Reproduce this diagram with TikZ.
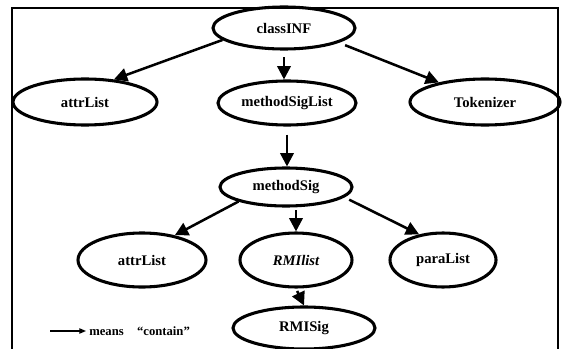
\documentclass[tikz,border=0pt]{standalone}
\usepackage{fontspec}
\setmainfont{Liberation Serif}
\usetikzlibrary{shapes.geometric,arrows.meta}
\begin{document}
\begin{tikzpicture}[x=0.75pt,y=-0.75pt,
  ell/.style={ellipse,draw,line width=2.3pt,inner sep=0pt,font=\fontsize{11}{13}\selectfont\bfseries},
  arr/.style={line width=1.9pt,-{Triangle[length=10pt,width=10pt]}},
  legarr/.style={line width=0.9pt,-{Triangle[length=5pt,width=4pt]}},
  frame/.style={line width=1pt}
]
\useasboundingbox (0,0) rectangle (563,349);
\draw[frame] (12,349) -- (12,8) -- (558,8) -- (558,349);

\node[ell,minimum width=106.5pt,minimum height=31.5pt] (classINF) at (284,28) {classINF};
\node[ell,minimum width=108pt,minimum height=34.5pt] (attrA) at (85,102) {attrList};
\node[ell,minimum width=103.5pt,minimum height=33pt] (msl) at (287,103) {methodSigList};
\node[ell,minimum width=112.5pt,minimum height=34.5pt] (tok) at (485,102) {Tokenizer};
\node[ell,minimum width=99pt,minimum height=28.5pt] (ms) at (286,187) {methodSig};
\node[ell,minimum width=96pt,minimum height=40.5pt] (attrB) at (142,260) {attrList};
\node[ell,minimum width=84pt,minimum height=40.5pt] (rmil) at (296,260) {\itshape RMIlist};
\node[ell,minimum width=79.5pt,minimum height=40.5pt] (para) at (443,260) {paraList};
\node[ell,minimum width=106.5pt,minimum height=31.5pt] (rmis) at (304,328) {RMISig};

\draw[arr] (classINF.191) -- (attrA.38);
\draw[arr,shorten <=5pt] (classINF.south) -- (classINF.south |- msl.north);
\draw[arr,shorten <=5pt] (classINF.-15) -- (tok.157);
\draw[arr,shorten <=6pt] (msl.south) -- (msl.south |- ms.north);
\draw[arr] (ms.197) -- (attrB.37);
\draw[arr,shorten <=2pt] (rmil.north |- ms.south) -- (rmil.north);
\draw[arr,shorten <=4pt] (ms.-10) -- (para.133);
\draw[arr,shorten <=2pt] (rmil.south) -- (rmis.north);

\coordinate (la) at (50,331);
\coordinate (lb) at (86,331);
\draw[legarr] (la) -- (lb);
\node[anchor=west,inner sep=0pt,font=\fontsize{9.5}{11}\selectfont\bfseries] (legend) at (89,331) {means\hspace{10pt}“contain”};
\end{tikzpicture}
\end{document}
